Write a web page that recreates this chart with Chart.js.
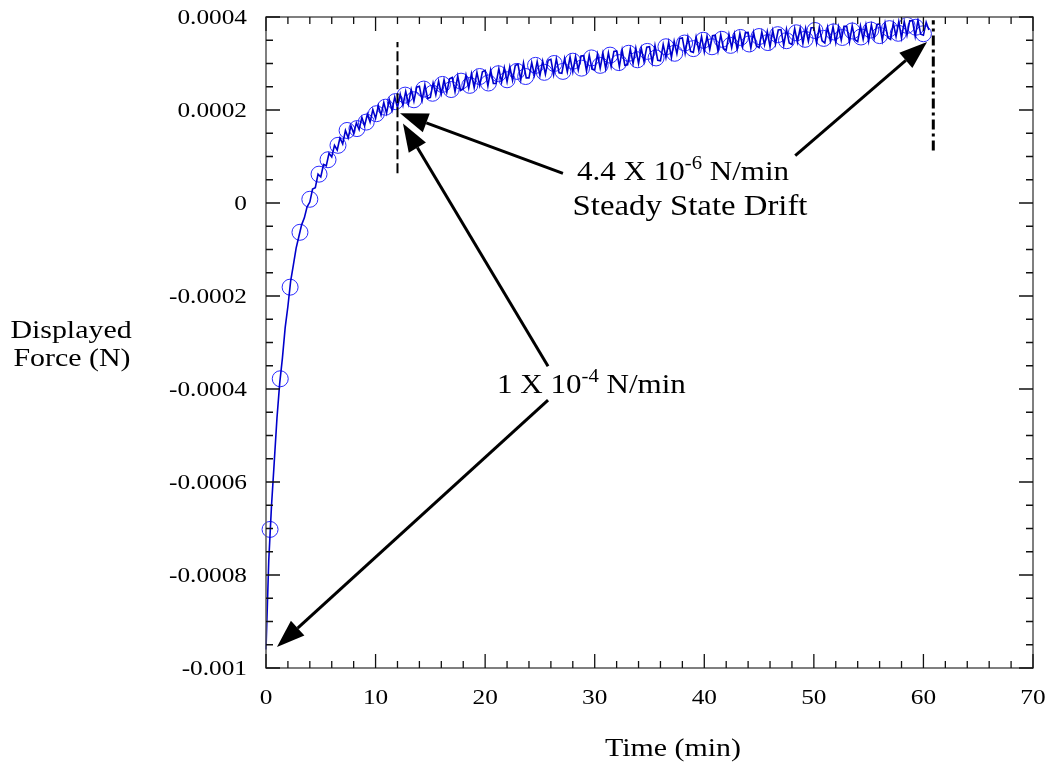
<!DOCTYPE html>
<html>
<head>
<meta charset="utf-8">
<script src="https://cdn.jsdelivr.net/npm/chart.js@4.4.1/dist/chart.umd.min.js"></script>
<style>
  html, body { margin: 0; padding: 0; background: #fff; }
  #wrap { width: 1053px; height: 777px; }
</style>
</head>
<body>
<div id="wrap"><canvas id="forceChart" width="1053" height="777"></canvas></div>
<script>
// recorded trace, time in min, force in micro-newtons (converted to N below)
const lineTime = [
  0, 0.25, 0.5, 0.75, 1, 1.25, 1.5, 1.75, 2, 2.25, 2.5, 2.75, 3, 3.25, 3.5, 3.75,
  4, 4.25, 4.5, 4.75, 5, 5.25, 5.5, 5.75, 6, 6.25, 6.5, 6.75, 7, 7.25, 7.5, 7.75,
  8, 8.25, 8.5, 8.75, 9, 9.25, 9.5, 9.75, 10, 10.25, 10.5, 10.75, 11, 11.25, 11.5, 11.75,
  12, 12.25, 12.5, 12.75, 13, 13.25, 13.5, 13.75, 14, 14.25, 14.5, 14.75, 15, 15.25, 15.5, 15.75,
  16, 16.25, 16.5, 16.75, 17, 17.25, 17.5, 17.75, 18, 18.25, 18.5, 18.75, 19, 19.25, 19.5, 19.75,
  20, 20.25, 20.5, 20.75, 21, 21.25, 21.5, 21.75, 22, 22.25, 22.5, 22.75, 23, 23.25, 23.5, 23.75,
  24, 24.25, 24.5, 24.75, 25, 25.25, 25.5, 25.75, 26, 26.25, 26.5, 26.75, 27, 27.25, 27.5, 27.75,
  28, 28.25, 28.5, 28.75, 29, 29.25, 29.5, 29.75, 30, 30.25, 30.5, 30.75, 31, 31.25, 31.5, 31.75,
  32, 32.25, 32.5, 32.75, 33, 33.25, 33.5, 33.75, 34, 34.25, 34.5, 34.75, 35, 35.25, 35.5, 35.75,
  36, 36.25, 36.5, 36.75, 37, 37.25, 37.5, 37.75, 38, 38.25, 38.5, 38.75, 39, 39.25, 39.5, 39.75,
  40, 40.25, 40.5, 40.75, 41, 41.25, 41.5, 41.75, 42, 42.25, 42.5, 42.75, 43, 43.25, 43.5, 43.75,
  44, 44.25, 44.5, 44.75, 45, 45.25, 45.5, 45.75, 46, 46.25, 46.5, 46.75, 47, 47.25, 47.5, 47.75,
  48, 48.25, 48.5, 48.75, 49, 49.25, 49.5, 49.75, 50, 50.25, 50.5, 50.75, 51, 51.25, 51.5, 51.75,
  52, 52.25, 52.5, 52.75, 53, 53.25, 53.5, 53.75, 54, 54.25, 54.5, 54.75, 55, 55.25, 55.5, 55.75,
  56, 56.25, 56.5, 56.75, 57, 57.25, 57.5, 57.75, 58, 58.25, 58.5, 58.75, 59, 59.25, 59.5, 59.75,
  60, 60.25, 60.5
];
const lineForce = [
  -960, -770, -652, -558, -463, -388, -333, -268, -222, -168, -133, -97, -72, -47, -32, -8,
  2, 30, 33, 62, 56, 83, 80, 107, 99, 124, 114, 140, 127, 156, 140, 166,
  150, 172, 158, 184, 166, 191, 174, 201, 182, 209, 189, 216, 193, 222, 199, 228,
  205, 234, 210, 240, 213, 244, 219, 249, 251, 221, 254, 225, 227, 258, 233, 262,
  235, 265, 238, 267, 270, 239, 273, 242, 245, 275, 247, 278, 248, 281, 253, 282,
  285, 252, 286, 257, 257, 289, 260, 291, 261, 293, 264, 296, 298, 265, 301, 269,
  269, 302, 275, 304, 274, 305, 277, 307, 309, 276, 310, 280, 279, 311, 282, 314,
  282, 315, 286, 316, 317, 284, 318, 288, 286, 320, 290, 322, 289, 323, 293, 326,
  327, 293, 329, 296, 297, 331, 300, 333, 300, 333, 304, 335, 336, 302, 339, 307,
  306, 341, 313, 346, 313, 348, 321, 354, 355, 322, 357, 326, 324, 357, 328, 358,
  325, 359, 330, 360, 361, 327, 362, 332, 329, 363, 334, 364, 331, 365, 336, 366,
  367, 333, 367, 338, 334, 368, 340, 369, 336, 371, 342, 372, 373, 339, 374, 344,
  341, 375, 346, 376, 343, 376, 348, 377, 377, 344, 378, 349, 344, 378, 349, 379,
  345, 379, 350, 380, 380, 346, 381, 351, 347, 381, 352, 383, 348, 383, 354, 384,
  385, 350, 387, 356, 352, 387, 358, 390, 355, 390, 361, 392, 392, 358, 393, 363,
  361, 389, 372
];
// open circle samples, same units
const circleTime = [
  0.37, 1.3, 2.2, 3.1, 4.0, 4.84, 5.66, 6.57, 7.4, 8.3, 9.15, 10.07, 10.9,
  11.8, 12.7, 13.5, 14.4, 15.2, 16.1, 16.9, 17.8, 18.6, 19.5, 20.3, 21.2, 22.0, 22.9,
  23.7, 24.6, 25.4, 26.3, 27.1, 28.0, 28.8, 29.7, 30.5, 31.4, 32.2, 33.1, 33.9, 34.8,
  35.6, 36.5, 37.3, 38.2, 39.0, 39.9, 40.7, 41.6, 42.4, 43.3, 44.1, 45.0, 45.8, 46.7,
  47.5, 48.4, 49.2, 50.1, 50.9, 51.8, 52.6, 53.5, 54.3, 55.2, 56.0, 56.9, 57.7, 58.5,
  59.3, 60.0
];
const circleForce = [
  -702, -378, -181, -63, 8, 62, 93, 124, 156, 160, 174, 192, 206,
  218, 232, 222, 245, 236, 255, 244, 262, 253, 272, 258, 278, 265, 283,
  272, 296, 281, 300, 283, 305, 290, 312, 296, 318, 302, 322, 308, 326,
  312, 336, 322, 344, 332, 350, 336, 352, 339, 356, 342, 358, 345, 362,
  349, 366, 352, 371, 354, 368, 356, 370, 357, 372, 360, 375, 365, 382,
  378, 364
];
const xTickValues = [0, 10, 20, 30, 40, 50, 60, 70];
const xTickLabels = ['0', '10', '20', '30', '40', '50', '60', '70'];
const yTickValues = [-0.001, -0.0008, -0.0006, -0.0004, -0.0002, 0, 0.0002, 0.0004];
const yTickLabels = ['-0.001', '-0.0008', '-0.0006', '-0.0004', '-0.0002', '0', '0.0002', '0.0004'];

const linePoints = lineTime.map((t, i) => ({ x: t, y: lineForce[i] * 1e-6 }));
const circlePoints = circleTime.map((t, i) => ({ x: t, y: circleForce[i] * 1e-6 }));

// annotations in data units
const arrows = [
  { from: [27.1, 0.0000639], to: [12.23, 0.000193] },
  { from: [48.3, 0.000102], to: [60.33, 0.000346] },
  { from: [25.74, -0.000351], to: [12.5, 0.000171] },
  { from: [25.74, -0.000424], to: [1.0, -0.000955] }
];
const markerLines = [
  { x: 12, y0: 0.0000639, y1: 0.000346, dash: [10, 4], width: 2 },
  { x: 60.9, y0: 0.000113, y1: 0.000393, dash: [10, 4, 3, 4], width: 3 }
];

const SERIF = '"Liberation Serif", "Times New Roman", serif';
const SX = 1.15; // horizontal stretch of the source lettering

function stretchText(ctx, text, x, y, align) {
  ctx.save();
  ctx.translate(x, y);
  ctx.scale(SX, 1);
  ctx.textAlign = align;
  ctx.fillText(text, 0, 0);
  ctx.restore();
}

// text with superscript, centred on x
function supText(ctx, parts, x, y, size) {
  const big = size + 'px ' + SERIF;
  const small = Math.round(size * 0.65) + 'px ' + SERIF;
  let total = 0;
  parts.forEach(p => {
    ctx.font = p.sup ? small : big;
    total += ctx.measureText(p.text).width * SX;
  });
  let cx = x - total / 2;
  parts.forEach(p => {
    ctx.font = p.sup ? small : big;
    stretchText(ctx, p.text, cx, p.sup ? y - size * 0.42 : y, 'left');
    cx += ctx.measureText(p.text).width * SX;
  });
}

const overlay = {
  id: 'overlay',
  afterDatasetsDraw(chart) {
    const ctx = chart.ctx;
    const area = chart.chartArea;
    const xs = chart.scales.x, ys = chart.scales.y;
    ctx.save();

    // frame
    ctx.strokeStyle = '#555';
    ctx.lineWidth = 1.5;
    ctx.strokeRect(area.left, area.top, area.right - area.left, area.bottom - area.top);

    // inside ticks, all four sides
    ctx.strokeStyle = '#111';
    ctx.lineWidth = 1.3;
    ctx.beginPath();
    for (let i = 0; i <= 35; i++) {
      const px = xs.getPixelForValue(i * 2);
      const len = i % 5 === 0 ? 14 : 7;
      ctx.moveTo(px, area.bottom); ctx.lineTo(px, area.bottom - len);
      ctx.moveTo(px, area.top); ctx.lineTo(px, area.top + len);
    }
    for (let i = 0; i <= 28; i++) {
      const py = ys.getPixelForValue(-0.001 + i * 0.00005);
      const len = i % 4 === 0 ? 14 : 7;
      ctx.moveTo(area.left, py); ctx.lineTo(area.left + len, py);
      ctx.moveTo(area.right, py); ctx.lineTo(area.right - len, py);
    }
    ctx.stroke();

    // tick labels
    ctx.fillStyle = '#000';
    ctx.font = '22px ' + SERIF;
    ctx.textBaseline = 'middle';
    yTickValues.forEach((v, i) => {
      stretchText(ctx, yTickLabels[i], area.left - 19, ys.getPixelForValue(v) + 1, 'right');
    });
    ctx.textBaseline = 'alphabetic';
    xTickValues.forEach((v, i) => {
      stretchText(ctx, xTickLabels[i], xs.getPixelForValue(v), area.bottom + 36, 'center');
    });

    // axis titles
    ctx.font = '26px ' + SERIF;
    stretchText(ctx, 'Displayed', 71, 338, 'center');
    stretchText(ctx, 'Force (N)', 72, 366, 'center');
    stretchText(ctx, 'Time (min)', 673, 756, 'center');

    // vertical marker lines
    markerLines.forEach(m => {
      ctx.beginPath();
      ctx.setLineDash(m.dash);
      ctx.lineWidth = m.width;
      ctx.strokeStyle = '#000';
      const px = xs.getPixelForValue(m.x);
      ctx.moveTo(px, ys.getPixelForValue(m.y0));
      ctx.lineTo(px, ys.getPixelForValue(m.y1));
      ctx.stroke();
    });
    ctx.setLineDash([]);

    // arrows
    arrows.forEach(a => {
      const x0 = xs.getPixelForValue(a.from[0]), y0 = ys.getPixelForValue(a.from[1]);
      const x1 = xs.getPixelForValue(a.to[0]), y1 = ys.getPixelForValue(a.to[1]);
      const ang = Math.atan2(y1 - y0, x1 - x0);
      const headLen = 28, headW = 10;
      const bx = x1 - headLen * Math.cos(ang), by = y1 - headLen * Math.sin(ang);
      ctx.strokeStyle = '#000';
      ctx.lineWidth = 3;
      ctx.beginPath();
      ctx.moveTo(x0, y0);
      ctx.lineTo(bx, by);
      ctx.stroke();
      ctx.fillStyle = '#000';
      ctx.beginPath();
      ctx.moveTo(x1, y1);
      ctx.lineTo(bx + headW * Math.sin(ang), by - headW * Math.cos(ang));
      ctx.lineTo(bx - headW * Math.sin(ang), by + headW * Math.cos(ang));
      ctx.closePath();
      ctx.fill();
    });

    // annotation text
    ctx.fillStyle = '#000';
    supText(ctx, [{ text: '4.4 X 10' }, { text: '-6', sup: true }, { text: ' N/min' }],
      xs.getPixelForValue(38.06), ys.getPixelForValue(0.0000488), 27);
    ctx.font = '28.5px ' + SERIF;
    stretchText(ctx, 'Steady State Drift', xs.getPixelForValue(38.7), ys.getPixelForValue(-0.0000264), 'center');
    supText(ctx, [{ text: '1 X 10' }, { text: '-4', sup: true }, { text: ' N/min' }],
      xs.getPixelForValue(29.7), ys.getPixelForValue(-0.000409), 27);

    ctx.restore();
  }
};

new Chart(document.getElementById('forceChart'), {
  type: 'scatter',
  data: {
    datasets: [{
      label: 'Force',
      data: linePoints,
      showLine: true,
      borderColor: '#0000cc',
      borderWidth: 1.6,
      pointRadius: 0,
      tension: 0,
      order: 0,
      clip: false
    }, {
      label: 'Samples',
      data: circlePoints,
      showLine: false,
      pointRadius: 8,
      pointBorderColor: '#2a2aff',
      pointBackgroundColor: 'rgba(0,0,0,0)',
      pointBorderWidth: 1,
      order: 1,
      clip: false
    }]
  },
  options: {
    responsive: false,
    animation: false,
    events: [],
    layout: { padding: { left: 0, right: 20, top: 17, bottom: 0 } },
    plugins: { legend: { display: false }, tooltip: { enabled: false } },
    scales: {
      x: {
        type: 'linear', min: 0, max: 70,
        ticks: { display: false }, grid: { display: false }, border: { display: false },
        afterFit: s => { s.height = 109; }
      },
      y: {
        type: 'linear', min: -0.001, max: 0.0004,
        ticks: { display: false }, grid: { display: false }, border: { display: false },
        afterFit: s => { s.width = 266; }
      }
    }
  },
  plugins: [overlay]
});
</script>
</body>
</html>
